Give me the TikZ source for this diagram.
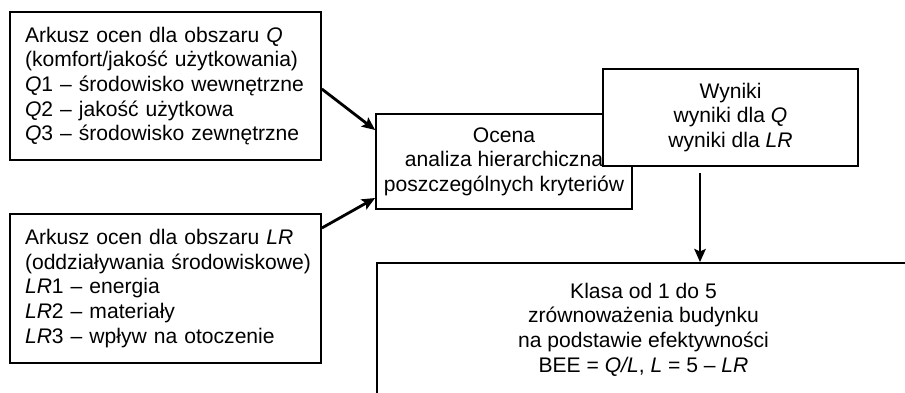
\documentclass[tikz,border=0pt]{standalone}
\usepackage{fontspec}
\setmainfont{Liberation Sans}
\usetikzlibrary{arrows.meta}
\begin{document}
\begin{tikzpicture}[x=0.02cm,y=-0.02cm,
    box/.style={draw, rectangle, line width=1pt, font=\fontsize{12}{14}\selectfont},
    sheet/.style={box, align=left, text width=5.62cm, inner xsep=0.3cm, minimum width=6.22cm},
    mid/.style={box, align=center, fill=white},
    arr/.style={line width=1.6pt,->,>={Stealth[length=7.5pt,width=6.5pt,inset=1.5pt]}}]
    \useasboundingbox (0,0) rectangle (905,392);
    \clip (0,0) rectangle (905,392);
    % sheets
    \node[sheet, minimum height=2.96cm] (qsheet) at (165.5,86) {Arkusz ocen dla obszaru \textit{Q}\\(komfort/jakość użytkowania)\\\textit{Q}1 -- środowisko wewnętrzne\\\textit{Q}2 -- jakość użytkowa\\\textit{Q}3 -- środowisko zewnętrzne};
    \node[sheet, minimum height=2.98cm] (lrsheet) at (165.5,288.5) {Arkusz ocen dla obszaru \textit{LR}\\\mbox{(oddziaływania środowiskowe)}\\\textit{LR}1 -- energia\\\textit{LR}2 -- materiały\\\textit{LR}3 -- wpływ na otoczenie};
    % evaluation and results
    \node[mid, minimum width=5.12cm, minimum height=1.9cm] (ocena) at (504,161.5) {Ocena\\analiza hierarchiczna\\poszczególnych kryteriów};
    \node[mid, minimum width=5.1cm, minimum height=1.94cm] (wyniki) at (730.5,117.5) {Wyniki\\wyniki dla \textit{Q}\\wyniki dla \textit{LR}};
    \node[mid, minimum width=10.66cm, minimum height=2.66cm] (klasa) at (643.5,329.5) {Klasa od 1 do 5\\zrównoważenia budynku\\na podstawie efektywności\\BEE = \textit{Q/L}, \textit{L} = 5 -- \textit{LR}};
    \coordinate (wynout) at ([xshift=-0.61cm,yshift=-0.12cm]wyniki.south);
    % arrows
    \draw[arr] ([yshift=-0.06cm]qsheet.east) -- ([yshift=0.63cm]ocena.west);
    \draw[arr] ([yshift=1.21cm]lrsheet.east) -- ([yshift=-0.73cm]ocena.west);
    \draw[arr] (wynout) -- (wynout |- klasa.north);
\end{tikzpicture}
\end{document}
